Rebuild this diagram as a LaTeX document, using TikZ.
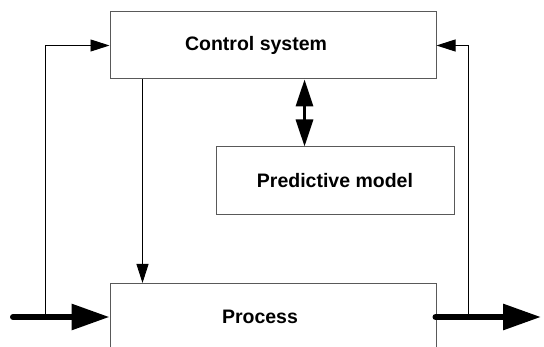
\documentclass[tikz,border=0pt]{standalone}
\usepackage{fontspec}
\setmainfont{Liberation Sans}
\usetikzlibrary{arrows.meta,positioning}

\begin{document}
\begin{tikzpicture}[x=1pt, y=-1pt,
  every node/.style={font=\fontsize{19.5}{23}\selectfont\bfseries},
  block/.style={rectangle, draw=black!65, line width=1pt, minimum width=326pt, minimum height=67pt, inner sep=0pt},
  sigarrow/.style={line width=0.9pt, -{Triangle[length=19pt, width=12pt]}},
  twoway/.style={line width=3pt, {Triangle[length=27pt, width=17pt]}-{Triangle[length=27pt, width=17pt]}},
  flowarrow/.style={line width=6pt, line cap=round, -{Triangle[length=38pt, width=25pt]}},
]
\useasboundingbox (0,0) rectangle (544,347);

% blocks
\node[block, label={[xshift=-17pt]center:Control system}] (ctrl) at (273,45.5) {};
\node[block, minimum width=238pt, minimum height=68pt] (pred) at (335,181) {Predictive model};
\node[block, label={[xshift=-13pt]center:Process}] (proc) at (273,317) {};

% plant input and output
\coordinate (in) at (13,317);
\coordinate (out) at (541,317);
\coordinate (fbl) at (45,317);
\coordinate (fbr) at (468,317);

\draw[flowarrow] (in) -- (proc.west);
\draw[flowarrow] ([xshift=-1pt]proc.east) -- (out);

% feedback to the controller
\draw[sigarrow] (fbl) |- (ctrl.west);
\draw[sigarrow] (fbr) |- (ctrl.east);

% control action and model exchange
\draw[sigarrow] ([xshift=33pt]ctrl.south west) -- ([xshift=33pt]proc.north west);
\draw[twoway] ([xshift=195pt]ctrl.south west) -- ([xshift=89pt]pred.north west);

\end{tikzpicture}
\end{document}
